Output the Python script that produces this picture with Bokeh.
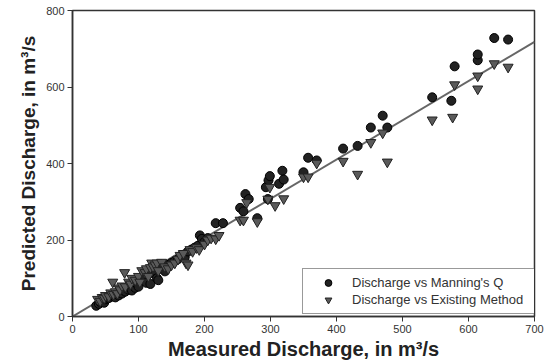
from bokeh.plotting import figure
from bokeh.embed import file_html
from bokeh.resources import INLINE
from bokeh.models import Legend, LegendItem, FixedTicker, Range1d

# Discharge vs Manning's Q (measured, predicted)
manning_x = [36, 40, 42, 45, 48, 50, 52, 55, 58, 60, 62, 65, 68, 70, 72, 75, 78, 80, 85, 88,
             90, 95, 98, 100, 105, 110, 112, 115, 118, 120, 125, 128, 130, 132, 135, 140, 145,
             150, 155, 160, 165, 170, 175, 180, 185, 190, 193, 196, 200, 205,
             217, 228, 254, 259, 262, 267, 280, 293, 296, 297, 299, 313, 318, 320, 350, 357,
             370, 410, 432, 452, 470, 477, 545, 574, 579, 614, 614, 639, 660]
manning_y = [28, 33, 38, 42, 36, 45, 50, 48, 55, 52, 58, 50, 62, 55, 68, 60, 72, 65, 70, 80,
             68, 75, 85, 78, 95, 100, 88, 110, 85, 115, 120, 100, 95, 125, 130, 118, 135,
             140, 145, 150, 160, 155, 170, 175, 180, 185, 212, 203, 195, 205,
             244, 244, 284, 275, 320, 307, 257, 338, 307, 356, 367, 347, 381, 358, 377, 415,
             408, 439, 446, 494, 525, 494, 573, 564, 654, 670, 685, 728, 724]

# Discharge vs Existing Method (measured, predicted)
existing_x = [38, 42, 45, 48, 50, 55, 58, 61, 62, 65, 68, 70, 72, 75, 79, 80, 85, 88, 90, 95,
              100, 102, 105, 110, 112, 115, 118, 120, 122, 125, 128, 130, 135, 140, 145, 150,
              155, 160, 163, 168, 172, 175, 178, 182, 188, 192, 200, 205, 210,
              217, 222, 254, 259, 264, 280, 296, 299, 307, 320, 350, 357, 370, 410, 432, 452,
              470, 477, 545, 576, 579, 614, 614, 639, 660]
existing_y = [45, 40, 50, 48, 55, 52, 62, 90, 58, 65, 60, 75, 70, 80, 115, 78, 90, 85, 100, 95,
              105, 90, 120, 115, 125, 105, 128, 140, 130, 135, 140, 120, 142, 130, 125, 135,
              140, 150, 160, 165, 140, 135, 175, 170, 180, 175, 189, 200, 205,
              203, 212, 252, 252, 298, 248, 307, 338, 290, 308, 365, 365, 401, 406, 372, 455,
              480, 404, 514, 521, 606, 629, 595, 661, 652]

# Fitted line
line_x = [0, 700]
line_y = [0, 718]

x_ticks = [0, 100, 200, 300, 400, 500, 600, 700]
y_ticks = [0, 200, 400, 600, 800]

FONT = "Liberation Sans"

p = figure(width=545, height=362, output_backend="svg", toolbar_location=None,
           x_range=Range1d(0, 700), y_range=Range1d(0, 800),
           min_border_left=72, min_border_right=11, min_border_top=10, min_border_bottom=44)
p.xgrid.visible = False
p.ygrid.visible = False
p.outline_line_color = "#333333"
p.outline_line_width = 1.5

p.line(line_x, line_y, line_color="#666666", line_width=2)

r1 = p.scatter(manning_x, manning_y, marker="circle", size=9, fill_color="#222222",
               line_color="#000000", line_width=1)
r2 = p.scatter(existing_x, existing_y, marker="inverted_triangle", size=10, fill_color="#5a5a5a",
               line_color="#222222", line_width=1)

for ax in (p.xaxis[0], p.yaxis[0]):
    ax.axis_line_color = "#333333"
    ax.axis_line_width = 1.5
    ax.major_tick_line_color = "#333333"
    ax.major_tick_out = 5
    ax.major_tick_in = 0
    ax.minor_tick_line_color = None
    ax.major_label_text_font = FONT
    ax.major_label_text_font_size = "11px"
    ax.major_label_text_color = "#333333"
    ax.axis_label_text_font = FONT
    ax.axis_label_text_font_style = "bold"
    ax.axis_label_text_color = "#222222"

p.xaxis.ticker = FixedTicker(ticks=x_ticks)
p.yaxis.ticker = FixedTicker(ticks=y_ticks)
p.xaxis.axis_label = "Measured Discharge, in m³/s"
p.yaxis.axis_label = "Predicted Discharge, in m³/s"
p.xaxis.axis_label_text_font_size = "20px"
p.yaxis.axis_label_text_font_size = "19px"
p.xaxis.axis_label_standoff = 2
p.yaxis.axis_label_standoff = 4
p.xaxis.major_label_standoff = 3
p.yaxis.major_label_standoff = 3
p.yaxis.major_label_orientation = "horizontal"

legend = Legend(items=[LegendItem(label="Discharge vs Manning's Q", renderers=[r1]),
                       LegendItem(label="Discharge vs Existing Method", renderers=[r2])],
                location=(230, 2))
legend.label_text_font = FONT
legend.label_text_font_size = "13px"
legend.label_text_color = "#333333"
legend.border_line_color = "#333333"
legend.border_line_width = 1.5
legend.spacing = 0
legend.padding = 5
legend.margin = 0
legend.glyph_height = 17
legend.label_height = 17
legend.glyph_width = 40
legend.label_standoff = 4
legend.label_width = 180
p.add_layout(legend)

open("out.html", "w").write(file_html(p, INLINE))
